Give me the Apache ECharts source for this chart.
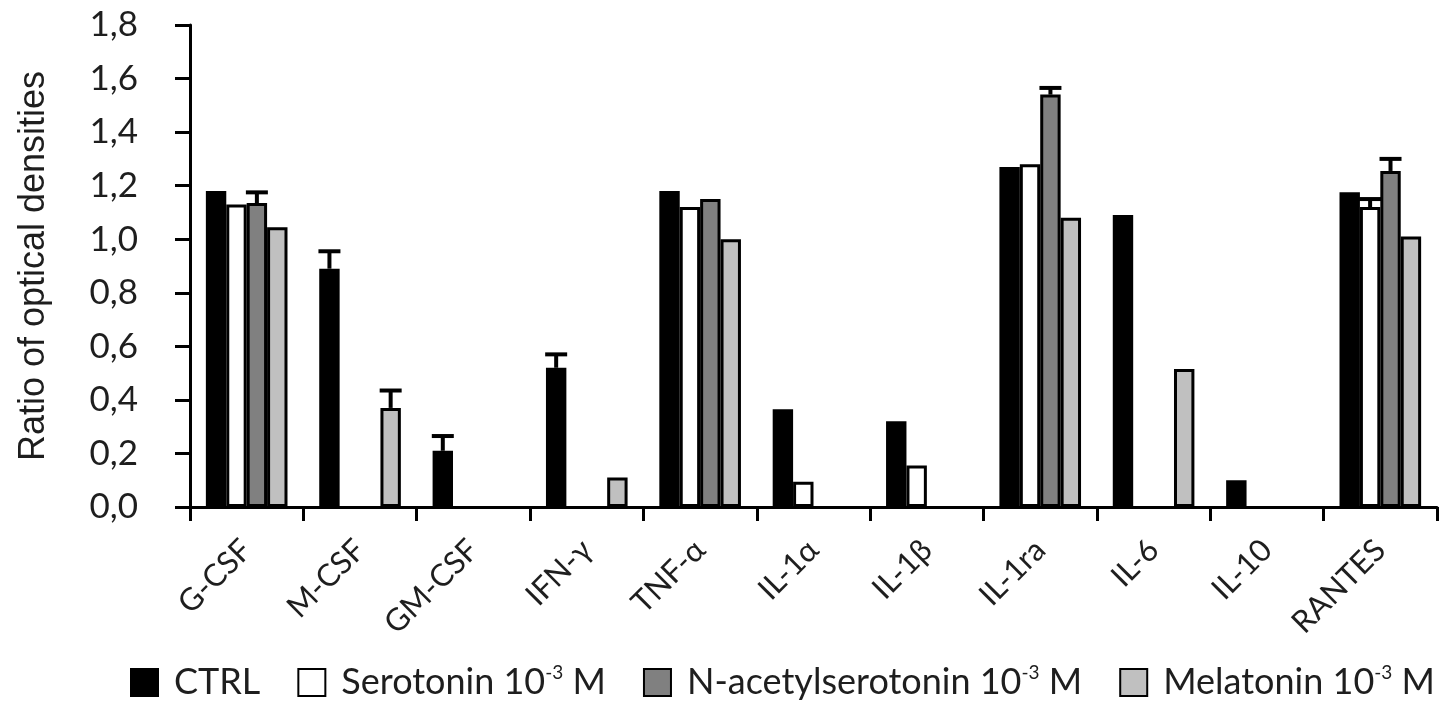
<!DOCTYPE html>
<html>
<head>
<meta charset="utf-8">
<script src="https://cdn.jsdelivr.net/npm/echarts@6/dist/echarts.min.js"></script>
<style>
  html, body { margin: 0; padding: 0; background: #ffffff; }
  #chart { width: 1442px; height: 704px; }
</style>
</head>
<body>
<div id="chart"></div>
<script>
// Cytokine panel: ratio of optical densities per treatment
const categories = ['G-CSF', 'M-CSF', 'GM-CSF', 'IFN-γ', 'TNF-α', 'IL-1α', 'IL-1β', 'IL-1ra', 'IL-6', 'IL-10', 'RANTES'];

const seriesNames = ['CTRL', 'Serotonin', 'N-acetylserotonin', 'Melatonin'];

const ctrlValues      = [1.18, 0.89, 0.21, 0.52, 1.18, 0.365, 0.32, 1.27, 1.09, 0.10, 1.175];
const serotoninValues = [1.13, '-', '-', '-', 1.12, 0.094, 0.155, 1.28, '-', '-', 1.12];
const nacetylValues   = [1.135, '-', '-', '-', 1.15, '-', '-', 1.54, '-', '-', 1.255];
const melatoninValues = [1.045, 0.37, '-', 0.11, 1.0, '-', '-', 1.08, 0.515, '-', 1.01];

// upper error (SEM) for each bar, null where none is drawn
const ctrlErrors      = [null, 0.065, 0.055, 0.05, null, null, null, null, null, null, null];
const serotoninErrors = [null, null, null, null, null, null, null, null, null, null, 0.03];
const nacetylErrors   = [0.04, null, null, null, null, null, null, 0.025, null, null, 0.045];
const melatoninErrors = [null, 0.065, null, null, null, null, null, null, null, null, null];

const yTicks = { min: 0, max: 1.8, interval: 0.2 };

const values = [ctrlValues, serotoninValues, nacetylValues, melatoninValues];
const errors = [ctrlErrors, serotoninErrors, nacetylErrors, melatoninErrors];
const fills = ['#000000', '#ffffff', '#808080', '#c0c0c0'];
const BAR_FRAC = 0.18;

const textFont = 'Lato';
const textColor = '#1e1e1e';

const barSeries = seriesNames.map((name, k) => ({
  name: name,
  type: 'bar',
  data: values[k],
  barWidth: (BAR_FRAC * 100) + '%',
  barGap: '0%',
  itemStyle: { color: fills[k], borderColor: '#000', borderWidth: 3 },
  emphasis: { disabled: true }
}));

const errorSeries = seriesNames.map((name, k) => ({
  name: name + ' SEM',
  type: 'custom',
  z: 5,
  data: values[k].map((v, i) => (errors[k][i] != null && v !== '-') ? [i, v, v + errors[k][i]] : null).filter(d => d),
  encode: { x: 0, y: [1, 2] },
  renderItem: function (params, api) {
    const idx = api.value(0);
    const catW = api.size([1, 0])[0];
    const barW = catW * BAR_FRAC;
    const cx = api.coord([idx, 0])[0] + (k - 1.5) * barW;
    const yLow = api.coord([idx, api.value(1)])[1];
    const yHigh = api.coord([idx, api.value(2)])[1];
    const half = 11;
    const style = { stroke: '#000', lineWidth: 4 };
    return {
      type: 'group',
      children: [
        { type: 'line', shape: { x1: cx, y1: yLow, x2: cx, y2: yHigh }, style: style },
        { type: 'line', shape: { x1: cx - half, y1: yHigh, x2: cx + half, y2: yHigh }, style: style }
      ]
    };
  }
}));

const chart = echarts.init(document.getElementById('chart'));
chart.setOption({
  animation: false,
  backgroundColor: '#ffffff',
  grid: { left: 190, right: 5, top: 25, bottom: 197, containLabel: false },
  legend: {
    data: seriesNames,
    left: 125,
    top: 658,
    icon: 'rect',
    itemWidth: 27,
    itemHeight: 27,
    itemGap: 37,
    selectedMode: false,
    formatter: function (name) {
      if (name === 'CTRL') return name;
      return name + ' 10{sup|-3} M';
    },
    textStyle: {
      fontFamily: textFont,
      fontSize: 36,
      color: textColor,
      padding: [0, 0, 0, 11],
      rich: {
        sup: { fontFamily: textFont, fontSize: 19, color: textColor, padding: [0, 0, 20, 0] }
      }
    }
  },
  xAxis: {
    type: 'category',
    data: categories,
    axisLine: { lineStyle: { color: '#000', width: 3 } },
    axisTick: { show: true, length: 14, lineStyle: { color: '#000', width: 3 } },
    axisLabel: {
      rotate: 45,
      margin: 38,
      fontFamily: textFont,
      fontSize: 31,
      color: textColor,
      interval: 0
    }
  },
  yAxis: {
    type: 'value',
    min: yTicks.min,
    max: yTicks.max,
    interval: yTicks.interval,
    name: 'Ratio of optical densities',
    nameLocation: 'middle',
    nameGap: 138,
    nameTextStyle: { fontFamily: 'Liberation Sans', fontSize: 36, color: textColor },
    axisLine: { show: true, lineStyle: { color: '#000', width: 3 } },
    axisTick: { show: true, length: 15, lineStyle: { color: '#000', width: 3 } },
    splitLine: { show: false },
    axisLabel: {
      margin: 52,
      fontFamily: textFont,
      fontSize: 35,
      color: textColor,
      formatter: v => v.toFixed(1).replace('.', ',')
    }
  },
  series: barSeries.concat(errorSeries)
});
</script>
</body>
</html>
